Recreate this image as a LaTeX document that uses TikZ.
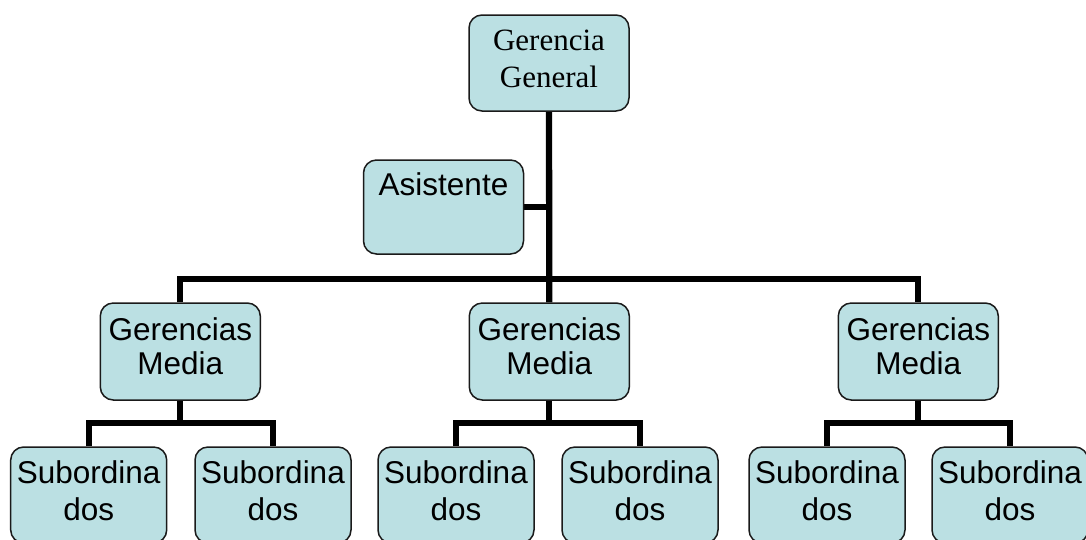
\documentclass[tikz,border=0pt]{standalone}
\usepackage{fontspec}
\setmainfont{Liberation Serif}
\newfontfamily\arialfont{Liberation Sans}
\usetikzlibrary{backgrounds,calc}
\definecolor{boxfill}{HTML}{BBE0E3}
\definecolor{boxline}{HTML}{1A1A1A}
\begin{document}
\begin{tikzpicture}[x=1pt, y=-1pt,
  orgbox/.style={draw=boxline, line width=1.5pt, fill=boxfill, rounded corners=13pt,
    inner sep=0pt, minimum width=160pt, minimum height=96pt},
  subbox/.style={orgbox, minimum width=156pt},
  link/.style={line width=6.3pt, line join=miter, draw=black},
  sanslabel/.style={anchor=base, inner sep=0pt, font=\arialfont\fontsize{31.5}{36}\selectfont},
  seriflabel/.style={anchor=base, inner sep=0pt, font=\fontsize{31}{36}\selectfont}]
  \useasboundingbox (0,0) rectangle (1086,539);
  \clip (0,0) rectangle (1086,539);

  % boxes
  \node[orgbox] (gg) at (549,63) {};
  \node[orgbox, minimum height=94pt] (asis) at (443.5,207) {};
  \node[orgbox, minimum height=97pt] (m1) at (180.3,351.5) {};
  \node[orgbox, minimum height=97pt] (m2) at (549.3,351.5) {};
  \node[orgbox, minimum height=97pt] (m3) at (918.3,351.5) {};
  \node[subbox] (s11) at (88.7,495) {};
  \node[subbox] (s12) at (273,495) {};
  \node[subbox] (s21) at (456,495) {};
  \node[subbox] (s22) at (640,495) {};
  \node[subbox] (s31) at (827,495) {};
  \node[subbox] (s32) at (1010,495) {};

  % connectors, kept behind the boxes
  \begin{scope}[on background layer]
    \draw[link] (gg.south) -- (m2.north);
    \draw[link] (asis.east) -- (asis.east -| gg.south);
    \draw[link] (m1.north) -- ++(0,-23.5) -| (m3.north);
    \foreach \m/\a/\b in {m1/s11/s12, m2/s21/s22, m3/s31/s32} {
      \draw[link] (\m.south) -- (\m.south |- 0,424);
      \draw[link] (\a.north) -- ++(0,-23) -| (\b.north);
    }
  \end{scope}

  % labels
  \node[seriflabel] (gg1) at (549,50) {Gerencia};
  \node[seriflabel] (gg2) at (549,87.5) {General};
  \node[sanslabel] (asist) at (443.5,195.5) {Asistente};
  \foreach \m in {m1,m2,m3} {
    \node[sanslabel] (\m a) at ($(\m.center)+(0,-11.5)$) {Gerencias};
    \node[sanslabel] (\m b) at ($(\m.center)+(0,23)$) {Media};
  }
  \foreach \s in {s11,s12,s21,s22,s31,s32} {
    \node[sanslabel] (\s a) at ($(\s.center)+(0,-11.7)$) {Subordina};
    \node[sanslabel] (\s b) at ($(\s.center)+(0,25)$) {dos};
  }
\end{tikzpicture}
\end{document}
